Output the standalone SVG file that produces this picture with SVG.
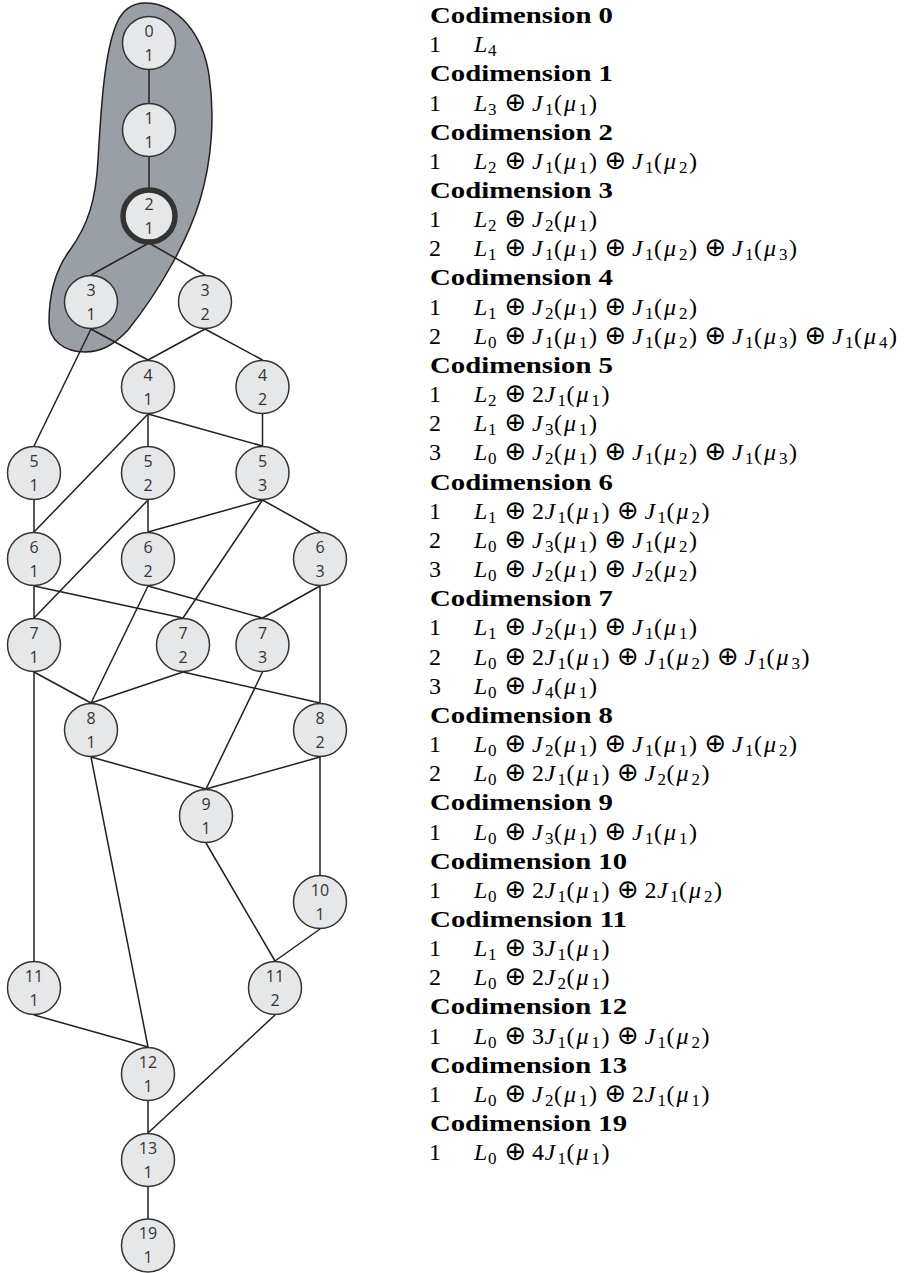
<svg xmlns="http://www.w3.org/2000/svg" width="904" height="1273" viewBox="0 0 904 1273">
<style>
.blob{fill:#9a9fa5;stroke:#231f20;stroke-width:1.5}
.e line{stroke:#231f20;stroke-width:1.5}
.nd circle{fill:#e6e7e8;stroke:#333;stroke-width:1.5}
.nd circle.hl{stroke-width:5.5}
.nd text{font-family:"Open Sans","DejaVu Sans",sans-serif;font-size:16px;fill:#333;text-anchor:middle}
text.f{font-family:"Liberation Serif",serif;font-size:24px;fill:#000}
.i{font-style:italic}
.s{font-size:17px;font-style:normal}
.o{font-family:"DejaVu Sans",sans-serif;font-size:26px;text-anchor:middle;font-style:normal}
text.hd{font-family:"Liberation Serif",serif;font-weight:bold;font-size:24px;fill:#000}
</style>
<path class="blob" d="M145,3 C178,3 203,35 209,75 C215,115 212,160 200,200 C188,240 160,290 128,330 C113,346 100,352 85,352 C64,352 49,340 49,322 C49,295 55,270 70,250 C88,225 96,200 98,160 C101,110 104,55 116,25 C122,10 132,3 145,3 Z"/>
<g id="connectors" class="e">
<line x1="149" y1="70" x2="149" y2="103"/>
<line x1="149" y1="157" x2="149" y2="189"/>
<line x1="149" y1="243" x2="91" y2="275"/>
<line x1="149" y1="243" x2="205" y2="275"/>
<line x1="91" y1="329" x2="148" y2="360"/>
<line x1="91" y1="329" x2="34" y2="446"/>
<line x1="205" y1="329" x2="148" y2="360"/>
<line x1="205" y1="329" x2="262.5" y2="360"/>
<line x1="148" y1="414" x2="148" y2="446"/>
<line x1="148" y1="414" x2="262.5" y2="446"/>
<line x1="148" y1="414" x2="34" y2="532"/>
<line x1="262.5" y1="414" x2="262.5" y2="446"/>
<line x1="34" y1="500" x2="34" y2="532"/>
<line x1="148" y1="500" x2="148" y2="532"/>
<line x1="148" y1="500" x2="34" y2="618"/>
<line x1="262.5" y1="500" x2="148" y2="532"/>
<line x1="262.5" y1="500" x2="183" y2="618"/>
<line x1="262.5" y1="500" x2="320" y2="532"/>
<line x1="34" y1="586" x2="34" y2="618"/>
<line x1="34" y1="586" x2="183" y2="618"/>
<line x1="148" y1="586" x2="262.5" y2="618"/>
<line x1="148" y1="586" x2="91" y2="703"/>
<line x1="320" y1="586" x2="262.5" y2="618"/>
<line x1="320" y1="586" x2="320" y2="703"/>
<line x1="34" y1="672" x2="91" y2="703"/>
<line x1="34" y1="672" x2="34" y2="961"/>
<line x1="183" y1="672" x2="91" y2="703"/>
<line x1="183" y1="672" x2="320" y2="703"/>
<line x1="262.5" y1="672" x2="206" y2="789"/>
<line x1="91" y1="757" x2="206" y2="789"/>
<line x1="91" y1="757" x2="148" y2="1047"/>
<line x1="320" y1="757" x2="206" y2="789"/>
<line x1="320" y1="757" x2="320" y2="875"/>
<line x1="206" y1="843" x2="275" y2="961"/>
<line x1="320" y1="929" x2="275" y2="961"/>
<line x1="34" y1="1015" x2="148" y2="1047"/>
<line x1="275" y1="1015" x2="148" y2="1133"/>
<line x1="148" y1="1101" x2="148" y2="1133"/>
<line x1="148" y1="1187" x2="148" y2="1219"/>
</g>
<g class="nd">
<g id="n0_1"><circle cx="149" cy="43" r="26.5"/><text x="149" y="36.5">0</text><text x="149" y="60.5">1</text></g>
<g id="n1_1"><circle cx="149" cy="130" r="26.5"/><text x="149" y="123.5">1</text><text x="149" y="147.5">1</text></g>
<g id="n2_1"><circle class="hl" cx="149" cy="216" r="26"/><text x="149" y="209.5">2</text><text x="149" y="233.5">1</text></g>
<g id="n3_1"><circle cx="91" cy="302" r="26.5"/><text x="91" y="295.5">3</text><text x="91" y="319.5">1</text></g>
<g id="n3_2"><circle cx="205" cy="302" r="26.5"/><text x="205" y="295.5">3</text><text x="205" y="319.5">2</text></g>
<g id="n4_1"><circle cx="148" cy="387" r="26.5"/><text x="148" y="380.5">4</text><text x="148" y="404.5">1</text></g>
<g id="n4_2"><circle cx="262.5" cy="387" r="26.5"/><text x="262.5" y="380.5">4</text><text x="262.5" y="404.5">2</text></g>
<g id="n5_1"><circle cx="34" cy="473" r="26.5"/><text x="34" y="466.5">5</text><text x="34" y="490.5">1</text></g>
<g id="n5_2"><circle cx="148" cy="473" r="26.5"/><text x="148" y="466.5">5</text><text x="148" y="490.5">2</text></g>
<g id="n5_3"><circle cx="262.5" cy="473" r="26.5"/><text x="262.5" y="466.5">5</text><text x="262.5" y="490.5">3</text></g>
<g id="n6_1"><circle cx="34" cy="559" r="26.5"/><text x="34" y="552.5">6</text><text x="34" y="576.5">1</text></g>
<g id="n6_2"><circle cx="148" cy="559" r="26.5"/><text x="148" y="552.5">6</text><text x="148" y="576.5">2</text></g>
<g id="n6_3"><circle cx="320" cy="559" r="26.5"/><text x="320" y="552.5">6</text><text x="320" y="576.5">3</text></g>
<g id="n7_1"><circle cx="34" cy="645" r="26.5"/><text x="34" y="638.5">7</text><text x="34" y="662.5">1</text></g>
<g id="n7_2"><circle cx="183" cy="645" r="26.5"/><text x="183" y="638.5">7</text><text x="183" y="662.5">2</text></g>
<g id="n7_3"><circle cx="262.5" cy="645" r="26.5"/><text x="262.5" y="638.5">7</text><text x="262.5" y="662.5">3</text></g>
<g id="n8_1"><circle cx="91" cy="730" r="26.5"/><text x="91" y="723.5">8</text><text x="91" y="747.5">1</text></g>
<g id="n8_2"><circle cx="320" cy="730" r="26.5"/><text x="320" y="723.5">8</text><text x="320" y="747.5">2</text></g>
<g id="n9_1"><circle cx="206" cy="816" r="26.5"/><text x="206" y="809.5">9</text><text x="206" y="833.5">1</text></g>
<g id="n10_1"><circle cx="320" cy="902" r="26.5"/><text x="320" y="895.5">10</text><text x="320" y="919.5">1</text></g>
<g id="n11_1"><circle cx="34" cy="988" r="26.5"/><text x="34" y="981.5">11</text><text x="34" y="1005.5">1</text></g>
<g id="n11_2"><circle cx="275" cy="988" r="26.5"/><text x="275" y="981.5">11</text><text x="275" y="1005.5">2</text></g>
<g id="n12_1"><circle cx="148" cy="1074" r="26.5"/><text x="148" y="1067.5">12</text><text x="148" y="1091.5">1</text></g>
<g id="n13_1"><circle cx="148" cy="1160" r="26.5"/><text x="148" y="1153.5">13</text><text x="148" y="1177.5">1</text></g>
<g id="n19_1"><circle cx="148" cy="1245.5" r="26.5"/><text x="148" y="1239">19</text><text x="148" y="1263">1</text></g>
</g>
<g id="legend">
<text class="hd" x="430" y="23" textLength="183" lengthAdjust="spacingAndGlyphs">Codimension 0</text>
<text class="f" y="52.2"><tspan x="429">1</tspan><tspan class="i" x="474">L</tspan><tspan class="s" x="488" y="56.2">4</tspan></text>
<text class="hd" x="430" y="81.3" textLength="183" lengthAdjust="spacingAndGlyphs">Codimension 1</text>
<text class="f" y="110.5"><tspan x="429">1</tspan><tspan class="i" x="474">L</tspan><tspan class="s" x="488" y="114.5">3</tspan><tspan class="o" x="515.5" y="110.5">⊕</tspan><tspan class="i" x="532">J</tspan><tspan class="s" x="545" y="114.5">1</tspan><tspan x="554" y="110.5">(</tspan><tspan class="i" x="564">μ</tspan><tspan class="s" x="579" y="114.5">1</tspan><tspan x="589" y="110.5">)</tspan></text>
<text class="hd" x="430" y="139.6" textLength="183" lengthAdjust="spacingAndGlyphs">Codimension 2</text>
<text class="f" y="168.8"><tspan x="429">1</tspan><tspan class="i" x="474">L</tspan><tspan class="s" x="488" y="172.8">2</tspan><tspan class="o" x="515.5" y="168.8">⊕</tspan><tspan class="i" x="532">J</tspan><tspan class="s" x="545" y="172.8">1</tspan><tspan x="554" y="168.8">(</tspan><tspan class="i" x="564">μ</tspan><tspan class="s" x="579" y="172.8">1</tspan><tspan x="589" y="168.8">)</tspan><tspan class="o" x="615.5">⊕</tspan><tspan class="i" x="632">J</tspan><tspan class="s" x="645" y="172.8">1</tspan><tspan x="654" y="168.8">(</tspan><tspan class="i" x="664">μ</tspan><tspan class="s" x="679" y="172.8">2</tspan><tspan x="689" y="168.8">)</tspan></text>
<text class="hd" x="430" y="198" textLength="183" lengthAdjust="spacingAndGlyphs">Codimension 3</text>
<text class="f" y="227.1"><tspan x="429">1</tspan><tspan class="i" x="474">L</tspan><tspan class="s" x="488" y="231.1">2</tspan><tspan class="o" x="515.5" y="227.1">⊕</tspan><tspan class="i" x="532">J</tspan><tspan class="s" x="545" y="231.1">2</tspan><tspan x="554" y="227.1">(</tspan><tspan class="i" x="564">μ</tspan><tspan class="s" x="579" y="231.1">1</tspan><tspan x="589" y="227.1">)</tspan></text>
<text class="f" y="256.3"><tspan x="429">2</tspan><tspan class="i" x="474">L</tspan><tspan class="s" x="488" y="260.3">1</tspan><tspan class="o" x="515.5" y="256.3">⊕</tspan><tspan class="i" x="532">J</tspan><tspan class="s" x="545" y="260.3">1</tspan><tspan x="554" y="256.3">(</tspan><tspan class="i" x="564">μ</tspan><tspan class="s" x="579" y="260.3">1</tspan><tspan x="589" y="256.3">)</tspan><tspan class="o" x="615.5">⊕</tspan><tspan class="i" x="632">J</tspan><tspan class="s" x="645" y="260.3">1</tspan><tspan x="654" y="256.3">(</tspan><tspan class="i" x="664">μ</tspan><tspan class="s" x="679" y="260.3">2</tspan><tspan x="689" y="256.3">)</tspan><tspan class="o" x="715.5">⊕</tspan><tspan class="i" x="732">J</tspan><tspan class="s" x="745" y="260.3">1</tspan><tspan x="754" y="256.3">(</tspan><tspan class="i" x="764">μ</tspan><tspan class="s" x="779" y="260.3">3</tspan><tspan x="789" y="256.3">)</tspan></text>
<text class="hd" x="430" y="285.4" textLength="183" lengthAdjust="spacingAndGlyphs">Codimension 4</text>
<text class="f" y="314.6"><tspan x="429">1</tspan><tspan class="i" x="474">L</tspan><tspan class="s" x="488" y="318.6">1</tspan><tspan class="o" x="515.5" y="314.6">⊕</tspan><tspan class="i" x="532">J</tspan><tspan class="s" x="545" y="318.6">2</tspan><tspan x="554" y="314.6">(</tspan><tspan class="i" x="564">μ</tspan><tspan class="s" x="579" y="318.6">1</tspan><tspan x="589" y="314.6">)</tspan><tspan class="o" x="615.5">⊕</tspan><tspan class="i" x="632">J</tspan><tspan class="s" x="645" y="318.6">1</tspan><tspan x="654" y="314.6">(</tspan><tspan class="i" x="664">μ</tspan><tspan class="s" x="679" y="318.6">2</tspan><tspan x="689" y="314.6">)</tspan></text>
<text class="f" y="343.8"><tspan x="429">2</tspan><tspan class="i" x="474">L</tspan><tspan class="s" x="488" y="347.8">0</tspan><tspan class="o" x="515.5" y="343.8">⊕</tspan><tspan class="i" x="532">J</tspan><tspan class="s" x="545" y="347.8">1</tspan><tspan x="554" y="343.8">(</tspan><tspan class="i" x="564">μ</tspan><tspan class="s" x="579" y="347.8">1</tspan><tspan x="589" y="343.8">)</tspan><tspan class="o" x="615.5">⊕</tspan><tspan class="i" x="632">J</tspan><tspan class="s" x="645" y="347.8">1</tspan><tspan x="654" y="343.8">(</tspan><tspan class="i" x="664">μ</tspan><tspan class="s" x="679" y="347.8">2</tspan><tspan x="689" y="343.8">)</tspan><tspan class="o" x="715.5">⊕</tspan><tspan class="i" x="732">J</tspan><tspan class="s" x="745" y="347.8">1</tspan><tspan x="754" y="343.8">(</tspan><tspan class="i" x="764">μ</tspan><tspan class="s" x="779" y="347.8">3</tspan><tspan x="789" y="343.8">)</tspan><tspan class="o" x="815.5">⊕</tspan><tspan class="i" x="832">J</tspan><tspan class="s" x="845" y="347.8">1</tspan><tspan x="854" y="343.8">(</tspan><tspan class="i" x="864">μ</tspan><tspan class="s" x="879" y="347.8">4</tspan><tspan x="889" y="343.8">)</tspan></text>
<text class="hd" x="430" y="372.9" textLength="183" lengthAdjust="spacingAndGlyphs">Codimension 5</text>
<text class="f" y="402.1"><tspan x="429">1</tspan><tspan class="i" x="474">L</tspan><tspan class="s" x="488" y="406.1">2</tspan><tspan class="o" x="515.5" y="402.1">⊕</tspan><tspan x="532">2</tspan><tspan class="i" x="544.5">J</tspan><tspan class="s" x="557.5" y="406.1">1</tspan><tspan x="566.5" y="402.1">(</tspan><tspan class="i" x="576.5">μ</tspan><tspan class="s" x="591.5" y="406.1">1</tspan><tspan x="601.5" y="402.1">)</tspan></text>
<text class="f" y="431.2"><tspan x="429">2</tspan><tspan class="i" x="474">L</tspan><tspan class="s" x="488" y="435.2">1</tspan><tspan class="o" x="515.5" y="431.2">⊕</tspan><tspan class="i" x="532">J</tspan><tspan class="s" x="545" y="435.2">3</tspan><tspan x="554" y="431.2">(</tspan><tspan class="i" x="564">μ</tspan><tspan class="s" x="579" y="435.2">1</tspan><tspan x="589" y="431.2">)</tspan></text>
<text class="f" y="460.4"><tspan x="429">3</tspan><tspan class="i" x="474">L</tspan><tspan class="s" x="488" y="464.4">0</tspan><tspan class="o" x="515.5" y="460.4">⊕</tspan><tspan class="i" x="532">J</tspan><tspan class="s" x="545" y="464.4">2</tspan><tspan x="554" y="460.4">(</tspan><tspan class="i" x="564">μ</tspan><tspan class="s" x="579" y="464.4">1</tspan><tspan x="589" y="460.4">)</tspan><tspan class="o" x="615.5">⊕</tspan><tspan class="i" x="632">J</tspan><tspan class="s" x="645" y="464.4">1</tspan><tspan x="654" y="460.4">(</tspan><tspan class="i" x="664">μ</tspan><tspan class="s" x="679" y="464.4">2</tspan><tspan x="689" y="460.4">)</tspan><tspan class="o" x="715.5">⊕</tspan><tspan class="i" x="732">J</tspan><tspan class="s" x="745" y="464.4">1</tspan><tspan x="754" y="460.4">(</tspan><tspan class="i" x="764">μ</tspan><tspan class="s" x="779" y="464.4">3</tspan><tspan x="789" y="460.4">)</tspan></text>
<text class="hd" x="430" y="489.6" textLength="183" lengthAdjust="spacingAndGlyphs">Codimension 6</text>
<text class="f" y="518.7"><tspan x="429">1</tspan><tspan class="i" x="474">L</tspan><tspan class="s" x="488" y="522.7">1</tspan><tspan class="o" x="515.5" y="518.7">⊕</tspan><tspan x="532">2</tspan><tspan class="i" x="544.5">J</tspan><tspan class="s" x="557.5" y="522.7">1</tspan><tspan x="566.5" y="518.7">(</tspan><tspan class="i" x="576.5">μ</tspan><tspan class="s" x="591.5" y="522.7">1</tspan><tspan x="601.5" y="518.7">)</tspan><tspan class="o" x="628">⊕</tspan><tspan class="i" x="644.5">J</tspan><tspan class="s" x="657.5" y="522.7">1</tspan><tspan x="666.5" y="518.7">(</tspan><tspan class="i" x="676.5">μ</tspan><tspan class="s" x="691.5" y="522.7">2</tspan><tspan x="701.5" y="518.7">)</tspan></text>
<text class="f" y="547.9"><tspan x="429">2</tspan><tspan class="i" x="474">L</tspan><tspan class="s" x="488" y="551.9">0</tspan><tspan class="o" x="515.5" y="547.9">⊕</tspan><tspan class="i" x="532">J</tspan><tspan class="s" x="545" y="551.9">3</tspan><tspan x="554" y="547.9">(</tspan><tspan class="i" x="564">μ</tspan><tspan class="s" x="579" y="551.9">1</tspan><tspan x="589" y="547.9">)</tspan><tspan class="o" x="615.5">⊕</tspan><tspan class="i" x="632">J</tspan><tspan class="s" x="645" y="551.9">1</tspan><tspan x="654" y="547.9">(</tspan><tspan class="i" x="664">μ</tspan><tspan class="s" x="679" y="551.9">2</tspan><tspan x="689" y="547.9">)</tspan></text>
<text class="f" y="577"><tspan x="429">3</tspan><tspan class="i" x="474">L</tspan><tspan class="s" x="488" y="581">0</tspan><tspan class="o" x="515.5" y="577">⊕</tspan><tspan class="i" x="532">J</tspan><tspan class="s" x="545" y="581">2</tspan><tspan x="554" y="577">(</tspan><tspan class="i" x="564">μ</tspan><tspan class="s" x="579" y="581">1</tspan><tspan x="589" y="577">)</tspan><tspan class="o" x="615.5">⊕</tspan><tspan class="i" x="632">J</tspan><tspan class="s" x="645" y="581">2</tspan><tspan x="654" y="577">(</tspan><tspan class="i" x="664">μ</tspan><tspan class="s" x="679" y="581">2</tspan><tspan x="689" y="577">)</tspan></text>
<text class="hd" x="430" y="606.2" textLength="183" lengthAdjust="spacingAndGlyphs">Codimension 7</text>
<text class="f" y="635.4"><tspan x="429">1</tspan><tspan class="i" x="474">L</tspan><tspan class="s" x="488" y="639.4">1</tspan><tspan class="o" x="515.5" y="635.4">⊕</tspan><tspan class="i" x="532">J</tspan><tspan class="s" x="545" y="639.4">2</tspan><tspan x="554" y="635.4">(</tspan><tspan class="i" x="564">μ</tspan><tspan class="s" x="579" y="639.4">1</tspan><tspan x="589" y="635.4">)</tspan><tspan class="o" x="615.5">⊕</tspan><tspan class="i" x="632">J</tspan><tspan class="s" x="645" y="639.4">1</tspan><tspan x="654" y="635.4">(</tspan><tspan class="i" x="664">μ</tspan><tspan class="s" x="679" y="639.4">1</tspan><tspan x="689" y="635.4">)</tspan></text>
<text class="f" y="664.5"><tspan x="429">2</tspan><tspan class="i" x="474">L</tspan><tspan class="s" x="488" y="668.5">0</tspan><tspan class="o" x="515.5" y="664.5">⊕</tspan><tspan x="532">2</tspan><tspan class="i" x="544.5">J</tspan><tspan class="s" x="557.5" y="668.5">1</tspan><tspan x="566.5" y="664.5">(</tspan><tspan class="i" x="576.5">μ</tspan><tspan class="s" x="591.5" y="668.5">1</tspan><tspan x="601.5" y="664.5">)</tspan><tspan class="o" x="628">⊕</tspan><tspan class="i" x="644.5">J</tspan><tspan class="s" x="657.5" y="668.5">1</tspan><tspan x="666.5" y="664.5">(</tspan><tspan class="i" x="676.5">μ</tspan><tspan class="s" x="691.5" y="668.5">2</tspan><tspan x="701.5" y="664.5">)</tspan><tspan class="o" x="728">⊕</tspan><tspan class="i" x="744.5">J</tspan><tspan class="s" x="757.5" y="668.5">1</tspan><tspan x="766.5" y="664.5">(</tspan><tspan class="i" x="776.5">μ</tspan><tspan class="s" x="791.5" y="668.5">3</tspan><tspan x="801.5" y="664.5">)</tspan></text>
<text class="f" y="693.7"><tspan x="429">3</tspan><tspan class="i" x="474">L</tspan><tspan class="s" x="488" y="697.7">0</tspan><tspan class="o" x="515.5" y="693.7">⊕</tspan><tspan class="i" x="532">J</tspan><tspan class="s" x="545" y="697.7">4</tspan><tspan x="554" y="693.7">(</tspan><tspan class="i" x="564">μ</tspan><tspan class="s" x="579" y="697.7">1</tspan><tspan x="589" y="693.7">)</tspan></text>
<text class="hd" x="430" y="722.8" textLength="183" lengthAdjust="spacingAndGlyphs">Codimension 8</text>
<text class="f" y="752"><tspan x="429">1</tspan><tspan class="i" x="474">L</tspan><tspan class="s" x="488" y="756">0</tspan><tspan class="o" x="515.5" y="752">⊕</tspan><tspan class="i" x="532">J</tspan><tspan class="s" x="545" y="756">2</tspan><tspan x="554" y="752">(</tspan><tspan class="i" x="564">μ</tspan><tspan class="s" x="579" y="756">1</tspan><tspan x="589" y="752">)</tspan><tspan class="o" x="615.5">⊕</tspan><tspan class="i" x="632">J</tspan><tspan class="s" x="645" y="756">1</tspan><tspan x="654" y="752">(</tspan><tspan class="i" x="664">μ</tspan><tspan class="s" x="679" y="756">1</tspan><tspan x="689" y="752">)</tspan><tspan class="o" x="715.5">⊕</tspan><tspan class="i" x="732">J</tspan><tspan class="s" x="745" y="756">1</tspan><tspan x="754" y="752">(</tspan><tspan class="i" x="764">μ</tspan><tspan class="s" x="779" y="756">2</tspan><tspan x="789" y="752">)</tspan></text>
<text class="f" y="781.2"><tspan x="429">2</tspan><tspan class="i" x="474">L</tspan><tspan class="s" x="488" y="785.2">0</tspan><tspan class="o" x="515.5" y="781.2">⊕</tspan><tspan x="532">2</tspan><tspan class="i" x="544.5">J</tspan><tspan class="s" x="557.5" y="785.2">1</tspan><tspan x="566.5" y="781.2">(</tspan><tspan class="i" x="576.5">μ</tspan><tspan class="s" x="591.5" y="785.2">1</tspan><tspan x="601.5" y="781.2">)</tspan><tspan class="o" x="628">⊕</tspan><tspan class="i" x="644.5">J</tspan><tspan class="s" x="657.5" y="785.2">2</tspan><tspan x="666.5" y="781.2">(</tspan><tspan class="i" x="676.5">μ</tspan><tspan class="s" x="691.5" y="785.2">2</tspan><tspan x="701.5" y="781.2">)</tspan></text>
<text class="hd" x="430" y="810.3" textLength="183" lengthAdjust="spacingAndGlyphs">Codimension 9</text>
<text class="f" y="839.5"><tspan x="429">1</tspan><tspan class="i" x="474">L</tspan><tspan class="s" x="488" y="843.5">0</tspan><tspan class="o" x="515.5" y="839.5">⊕</tspan><tspan class="i" x="532">J</tspan><tspan class="s" x="545" y="843.5">3</tspan><tspan x="554" y="839.5">(</tspan><tspan class="i" x="564">μ</tspan><tspan class="s" x="579" y="843.5">1</tspan><tspan x="589" y="839.5">)</tspan><tspan class="o" x="615.5">⊕</tspan><tspan class="i" x="632">J</tspan><tspan class="s" x="645" y="843.5">1</tspan><tspan x="654" y="839.5">(</tspan><tspan class="i" x="664">μ</tspan><tspan class="s" x="679" y="843.5">1</tspan><tspan x="689" y="839.5">)</tspan></text>
<text class="hd" x="430" y="868.6" textLength="197" lengthAdjust="spacingAndGlyphs">Codimension 10</text>
<text class="f" y="897.8"><tspan x="429">1</tspan><tspan class="i" x="474">L</tspan><tspan class="s" x="488" y="901.8">0</tspan><tspan class="o" x="515.5" y="897.8">⊕</tspan><tspan x="532">2</tspan><tspan class="i" x="544.5">J</tspan><tspan class="s" x="557.5" y="901.8">1</tspan><tspan x="566.5" y="897.8">(</tspan><tspan class="i" x="576.5">μ</tspan><tspan class="s" x="591.5" y="901.8">1</tspan><tspan x="601.5" y="897.8">)</tspan><tspan class="o" x="628">⊕</tspan><tspan x="644.5">2</tspan><tspan class="i" x="657">J</tspan><tspan class="s" x="670" y="901.8">1</tspan><tspan x="679" y="897.8">(</tspan><tspan class="i" x="689">μ</tspan><tspan class="s" x="704" y="901.8">2</tspan><tspan x="714" y="897.8">)</tspan></text>
<text class="hd" x="430" y="927" textLength="197" lengthAdjust="spacingAndGlyphs">Codimension 11</text>
<text class="f" y="956.1"><tspan x="429">1</tspan><tspan class="i" x="474">L</tspan><tspan class="s" x="488" y="960.1">1</tspan><tspan class="o" x="515.5" y="956.1">⊕</tspan><tspan x="532">3</tspan><tspan class="i" x="544.5">J</tspan><tspan class="s" x="557.5" y="960.1">1</tspan><tspan x="566.5" y="956.1">(</tspan><tspan class="i" x="576.5">μ</tspan><tspan class="s" x="591.5" y="960.1">1</tspan><tspan x="601.5" y="956.1">)</tspan></text>
<text class="f" y="985.3"><tspan x="429">2</tspan><tspan class="i" x="474">L</tspan><tspan class="s" x="488" y="989.3">0</tspan><tspan class="o" x="515.5" y="985.3">⊕</tspan><tspan x="532">2</tspan><tspan class="i" x="544.5">J</tspan><tspan class="s" x="557.5" y="989.3">2</tspan><tspan x="566.5" y="985.3">(</tspan><tspan class="i" x="576.5">μ</tspan><tspan class="s" x="591.5" y="989.3">1</tspan><tspan x="601.5" y="985.3">)</tspan></text>
<text class="hd" x="430" y="1014.4" textLength="197" lengthAdjust="spacingAndGlyphs">Codimension 12</text>
<text class="f" y="1043.6"><tspan x="429">1</tspan><tspan class="i" x="474">L</tspan><tspan class="s" x="488" y="1047.6">0</tspan><tspan class="o" x="515.5" y="1043.6">⊕</tspan><tspan x="532">3</tspan><tspan class="i" x="544.5">J</tspan><tspan class="s" x="557.5" y="1047.6">1</tspan><tspan x="566.5" y="1043.6">(</tspan><tspan class="i" x="576.5">μ</tspan><tspan class="s" x="591.5" y="1047.6">1</tspan><tspan x="601.5" y="1043.6">)</tspan><tspan class="o" x="628">⊕</tspan><tspan class="i" x="644.5">J</tspan><tspan class="s" x="657.5" y="1047.6">1</tspan><tspan x="666.5" y="1043.6">(</tspan><tspan class="i" x="676.5">μ</tspan><tspan class="s" x="691.5" y="1047.6">2</tspan><tspan x="701.5" y="1043.6">)</tspan></text>
<text class="hd" x="430" y="1072.8" textLength="197" lengthAdjust="spacingAndGlyphs">Codimension 13</text>
<text class="f" y="1101.9"><tspan x="429">1</tspan><tspan class="i" x="474">L</tspan><tspan class="s" x="488" y="1105.9">0</tspan><tspan class="o" x="515.5" y="1101.9">⊕</tspan><tspan class="i" x="532">J</tspan><tspan class="s" x="545" y="1105.9">2</tspan><tspan x="554" y="1101.9">(</tspan><tspan class="i" x="564">μ</tspan><tspan class="s" x="579" y="1105.9">1</tspan><tspan x="589" y="1101.9">)</tspan><tspan class="o" x="615.5">⊕</tspan><tspan x="632">2</tspan><tspan class="i" x="644.5">J</tspan><tspan class="s" x="657.5" y="1105.9">1</tspan><tspan x="666.5" y="1101.9">(</tspan><tspan class="i" x="676.5">μ</tspan><tspan class="s" x="691.5" y="1105.9">1</tspan><tspan x="701.5" y="1101.9">)</tspan></text>
<text class="hd" x="430" y="1131.1" textLength="197" lengthAdjust="spacingAndGlyphs">Codimension 19</text>
<text class="f" y="1160.2"><tspan x="429">1</tspan><tspan class="i" x="474">L</tspan><tspan class="s" x="488" y="1164.2">0</tspan><tspan class="o" x="515.5" y="1160.2">⊕</tspan><tspan x="532">4</tspan><tspan class="i" x="544.5">J</tspan><tspan class="s" x="557.5" y="1164.2">1</tspan><tspan x="566.5" y="1160.2">(</tspan><tspan class="i" x="576.5">μ</tspan><tspan class="s" x="591.5" y="1164.2">1</tspan><tspan x="601.5" y="1160.2">)</tspan></text>
</g>
</svg>
